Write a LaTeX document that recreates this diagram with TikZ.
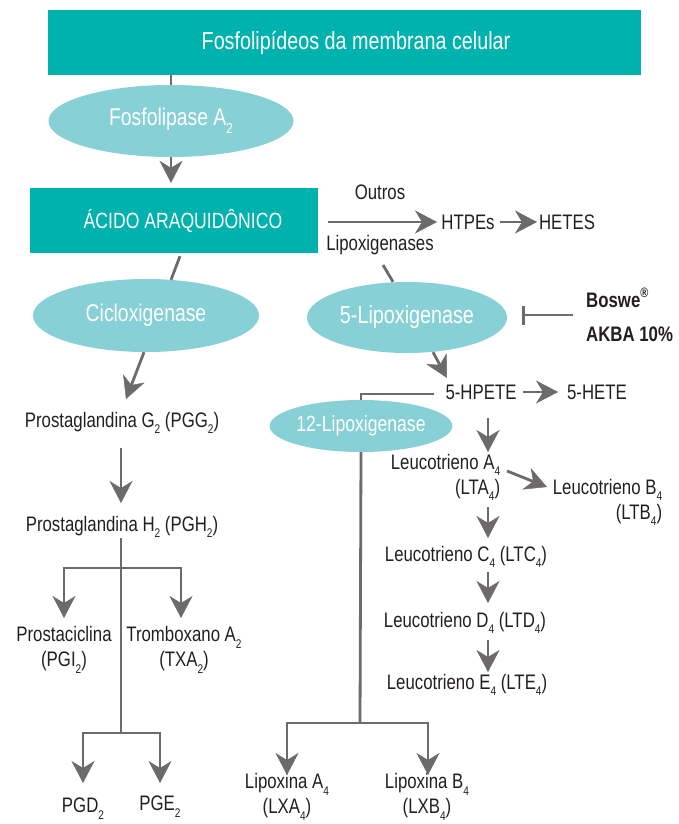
\documentclass[tikz,border=0pt]{standalone}
\usepackage{fontspec}
\usepackage{graphicx}
\setmainfont{Liberation Sans}[FakeStretch=0.8]
\usetikzlibrary{arrows.meta,shapes.geometric,calc}
\definecolor{teal1}{HTML}{00B2AE}
\definecolor{lblue}{HTML}{86D0D6}
\definecolor{lgray}{HTML}{6D6A6C}
\definecolor{ink}{HTML}{231F20}
\newcommand\lsub[1]{\raisebox{-0.32em}{\scalebox{0.6}{#1}}}
\begin{document}
\begin{tikzpicture}[x=1pt,y=-1pt,
 txt/.style={inner sep=0pt, text=ink, font=\fontsize{21}{25}\selectfont},
 boxn/.style={rectangle, fill=teal1, text=white, inner sep=0pt},
 ell/.style={ellipse, fill=lblue, text=white, inner sep=0pt},
 ln/.style={draw=lgray, line width=2.8pt},
 arr/.style={ln, -{Stealth[length=22pt,width=23pt,inset=7pt,line width=0.5pt]}}]
\useasboundingbox (0,0) rectangle (678,824);

\node[boxn, minimum width=593pt, minimum height=65pt, font=\fontsize{24.7}{28}\selectfont] (top) at (344.5,42.5) {\hspace*{23pt}Fosfolipídeos da membrana celular};
\node[ell, minimum width=245pt, minimum height=72pt, font=\fontsize{24.2}{28}\selectfont] (fla) at (171,121) {Fosfolipase A\lsub{2}};
\node[boxn, minimum width=288pt, minimum height=65pt, font=\fontsize{22}{25}\selectfont] (acido) at (174,220.5) {\hspace*{18pt}ÁCIDO ARAQUIDÔNICO};
\node[ell, minimum width=226pt, minimum height=73pt, font=\fontsize{24.2}{28}\selectfont] (cox) at (146,315.5) {Cicloxigenase};
\node[ell, minimum width=200pt, minimum height=71pt, font=\fontsize{24.7}{28}\selectfont] (lox5) at (407,317.5) {5-Lipoxigenase};
\node[ell, minimum width=172pt, minimum height=52pt, font=\fontsize{22}{25}\selectfont] (lox12) at (361,426) {12-Lipoxigenase};

\node[txt] (outros) at (380,192) {Outros};
\node[txt] (lipl) at (380,245) {Lipoxigenases};
\node[txt] (htpes) at (468,222) {HTPEs};
\node[txt] (hetes) at (567,222) {HETES};
\node[txt, font=\bfseries\fontsize{21}{34}\selectfont, align=left, anchor=west] (bos) at (586,315) {Boswe\raisebox{0.5em}{\scalebox{0.65}{®}}\\AKBA 10\%};
\node[txt] (hpete) at (481,392) {5-HPETE};
\node[txt] (hete) at (597,392) {5-HETE};
\node[txt, align=right] (lta) at (445.5,477.5) {Leucotrieno A\lsub{4}\\(LTA\lsub{4})};
\node[txt, align=right] (ltb) at (607.5,502.5) {Leucotrieno B\lsub{4}\\(LTB\lsub{4})};
\node[txt] (ltc) at (466,557) {Leucotrieno C\lsub{4} (LTC\lsub{4})};
\node[txt] (ltd) at (465,623) {Leucotrieno D\lsub{4} (LTD\lsub{4})};
\node[txt] (lte) at (467,685) {Leucotrieno E\lsub{4} (LTE\lsub{4})};
\node[txt] (pgg) at (122,423) {Prostaglandina G\lsub{2} (PGG\lsub{2})};
\node[txt] (pgh) at (122,527) {Prostaglandina H\lsub{2} (PGH\lsub{2})};
\node[txt, align=center] (pgi) at (64,650) {Prostaciclina\\(PGI\lsub{2})};
\node[txt, align=center] (txa) at (184,650) {Tromboxano A\lsub{2}\\(TXA\lsub{2})};
\node[txt] (pgd) at (83,809) {PGD\lsub{2}};
\node[txt] (pge) at (160,807) {PGE\lsub{2}};
\node[txt, align=center] (lxa) at (287,797) {Lipoxina A\lsub{4}\\(LXA\lsub{4})};
\node[txt, align=center] (lxb) at (427,797) {Lipoxina B\lsub{4}\\(LXB\lsub{4})};

\coordinate (s1) at (121,568);
\coordinate (s2) at (121,733);
\coordinate (s3) at (360,723);

\draw[ln] (top.south -| fla.north) -- (fla.north);
\draw[arr] (fla.south) -- ($(fla.south |- acido.north)+(0,-5)$);
\draw[ln] ($(acido.south)+(6,3)$) -- ($(cox.north)+(25,1)$);
\draw[arr] ($(cox.south)+(-2,0)$) -- ($(pgg.center)+(4,-24)$);
\draw[arr] ($(pgg.center)+(-1,25)$) -- ($(pgh.center)+(-1,-24)$);
\draw[ln] ($(pgh.center)+(-1,11)$) -- (s2);
\draw[arr] (s1) -| ($(pgi.center)+(0,-32)$);
\draw[arr] (s1) -| ($(txa.center)+(-3,-32)$);
\draw[arr] (s2) -| ($(pgd.center)+(0,-26)$);
\draw[arr] (s2) -| ($(pge.center)+(0,-24)$);

\draw[arr] ($(acido.east)+(10,1.5)$) -- ($(htpes.center)+(-31,0)$);
\draw[arr] ($(htpes.center)+(32,0)$) -- ($(hetes.center)+(-30,0)$);
\draw[ln] ($(lipl.center)+(3,20)$) -- ($(lox5.north)+(-14,0)$);
\draw[ln, -{Bar[width=19pt,line width=2.8pt]}] ($(bos.west)+(-13,0)$) -- ($(lox5.east)+(15,-2.5)$);
\draw[arr] ($(lox5.south)+(26,-1)$) -- ($(hpete.center)+(-34,-14)$);
\draw[arr] ($(hpete.center)+(42,0)$) -- ($(hete.center)+(-39,0)$);
\draw[ln] ($(hpete.center)+(-47,2)$) -| (lox12.north);
\draw[ln] (lox12.south) -- (s3);
\draw[arr] (s3) -| ($(lxa.center)+(0,-22)$);
\draw[arr] (s3) -| ($(lxb.center)+(1,-22)$);
\draw[arr] ($(hpete.center)+(7,26)$) -- ($(lta.center)+(42.5,-25.5)$);
\draw[arr] ($(lta.center)+(61.5,-6.5)$) -- ($(ltb.center)+(-60.5,-15.5)$);
\draw[arr] ($(lta.center)+(42.5,29.5)$) -- ($(ltc.center)+(22,-19)$);
\draw[arr] ($(ltc.center)+(22,15)$) -- ($(ltd.center)+(23,-20)$);
\draw[arr] ($(ltd.center)+(23,17)$) -- ($(lte.center)+(21,-13)$);
\end{tikzpicture}
\end{document}
